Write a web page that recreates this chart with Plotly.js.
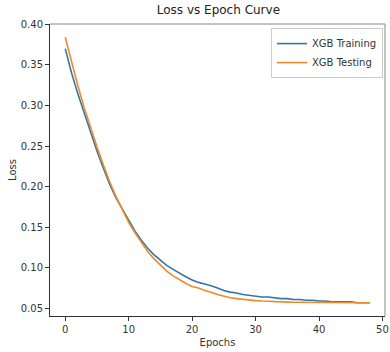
<!DOCTYPE html>
<html>
<head>
<meta charset="utf-8">
<script src="https://cdn.plot.ly/plotly-3.0.1.min.js"></script>
<style>html,body{margin:0;padding:0;background:#fff;}#chart{width:390px;height:352px;}</style>
</head>
<body>
<div id="chart"></div>
<script>
const epochs = [0,1,2,3,4,5,6,7,8,9,10,11,12,13,14,15,16,17,18,19,20,21,22,23,24,25,26,27,28,29,30,31,32,33,34,35,36,37,38,39,40,41,42,43,44,45,46,47,48];
const trainLoss = [0.370,0.340,0.314,0.290,0.266,0.244,0.223,0.203,0.186,0.172,0.158,0.145,0.134,0.124,0.116,0.109,0.103,0.098,0.093,0.089,0.085,0.082,0.080,0.078,0.075,0.072,0.070,0.069,0.067,0.066,0.065,0.064,0.064,0.063,0.062,0.062,0.061,0.061,0.060,0.060,0.059,0.059,0.058,0.058,0.058,0.058,0.057,0.057,0.057];
const testLoss = [0.384,0.353,0.324,0.297,0.272,0.249,0.227,0.206,0.188,0.171,0.156,0.143,0.131,0.120,0.111,0.103,0.096,0.090,0.085,0.081,0.077,0.075,0.072,0.070,0.067,0.065,0.063,0.062,0.061,0.060,0.0595,0.059,0.0585,0.058,0.058,0.0577,0.0575,0.0575,0.0574,0.0573,0.0573,0.0572,0.0572,0.0572,0.0571,0.0571,0.0571,0.057,0.057];
const seriesNames = ["XGB Training", "XGB Testing"];
const xTicks = [0,10,20,30,40,50];
const yTicks = [0.05,0.10,0.15,0.20,0.25,0.30,0.35,0.40];

const font = "DejaVu Sans, sans-serif";
const traces = [
  {x: epochs, y: trainLoss, name: seriesNames[0], mode: "lines", line: {color: "#2f78a8", width: 1.6}},
  {x: epochs, y: testLoss, name: seriesNames[1], mode: "lines", line: {color: "#f08a2a", width: 1.6}}
];
const layout = {
  width: 390, height: 352,
  margin: {l: 50, r: 5, t: 24, b: 36},
  paper_bgcolor: "#fff", plot_bgcolor: "#fff",
  font: {family: font, size: 10, color: "#333"},
  title: {text: "Loss vs Epoch Curve", font: {family: font, size: 12, color: "#222"}, x: 0.56, xanchor: "center", y: 0.985, yanchor: "top"},
  xaxis: {
    range: [-2.4, 50.4], tickvals: xTicks, ticktext: xTicks.map(String),
    showgrid: false, zeroline: false, showline: true, linecolor: "#333", linewidth: 1,
    ticks: "outside", ticklen: 4, tickcolor: "#333",
    title: {text: "Epochs", font: {family: font, size: 10, color: "#333"}, standoff: 4}
  },
  yaxis: {
    range: [0.0406, 0.4004], tickvals: yTicks, ticktext: yTicks.map(v => v.toFixed(2)),
    showgrid: false, zeroline: false, showline: true, linecolor: "#333", linewidth: 1,
    ticks: "outside", ticklen: 4, tickcolor: "#333",
    title: {text: "Loss", font: {family: font, size: 10, color: "#333"}, standoff: 2}
  },
  shapes: [
    {type: "line", xref: "paper", yref: "paper", x0: 0, x1: 1, y0: 1, y1: 1, line: {color: "#888", width: 1}},
    {type: "line", xref: "paper", yref: "paper", x0: 1, x1: 1, y0: 0, y1: 1, line: {color: "#888", width: 1}}
  ],
  legend: {
    x: 0.994, y: 0.986, xanchor: "right", yanchor: "top",
    bgcolor: "rgba(255,255,255,0.8)", bordercolor: "#ccc", borderwidth: 1,
    font: {family: font, size: 10, color: "#333"}, tracegroupgap: 0
  },
  showlegend: true
};
Plotly.newPlot("chart", traces, layout, {displayModeBar: false, staticPlot: true});
</script>
</body>
</html>
